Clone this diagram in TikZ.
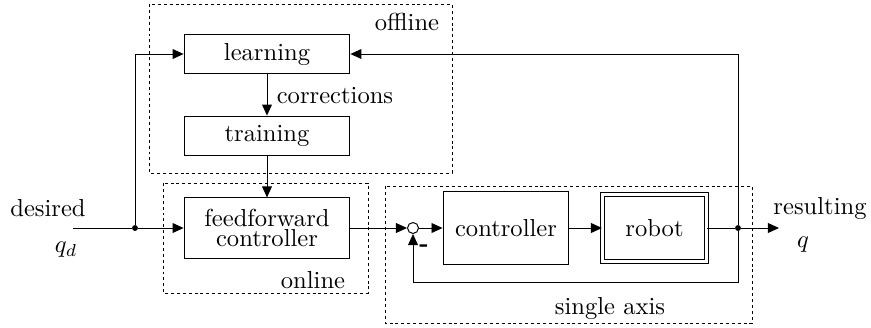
\documentclass[tikz,border=0pt]{standalone}
\usepackage{tikz}
\usetikzlibrary{arrows.meta, positioning, calc}

\begin{document}
\begin{tikzpicture}[x=0.0143cm, y=-0.0143cm,
  block/.style={draw, thin, minimum width=2.37cm, minimum height=0.57cm, inner sep=2pt, align=center},
  region/.style={draw, thin, dash pattern=on 1.2pt off 1.2pt},
  flow/.style={-{Triangle[length=4.5pt,width=4pt]}, thin},
  sumnode/.style={draw, thin, circle, minimum size=0.157cm, inner sep=0pt},
  joint/.style={circle, fill, minimum size=2.4pt, inner sep=0pt}]

\useasboundingbox (0,0) rectangle (871,327);

% regiones
\draw[region] (149,4) rectangle (452,173);
\draw[region] (163,183) rectangle (368,293);
\draw[region] (385,186) rectangle (752,323);

% rama offline
\node[block] (learn) at (267,54) {learning};
\node[block] (train) at (267,136) {training};

% rama online
\node[block, minimum height=0.86cm] (ff) at (267,228) {feedforward\\[-3.5pt]controller};

% single axis
\node[sumnode] (sum) at (413,228) {};
\node[block, minimum width=1.8cm, minimum height=1.03cm] (ctrl) at (506,228) {controller};
\node[draw, thin, double, double distance=1.6pt, minimum width=1.487cm, minimum height=0.958cm] (robot) at (654.5,228) {robot};

% puntos y extremos
\coordinate (start) at (73,228);
\node[joint] (in) at (135,228) {};
\node[joint] (split) at (738,228) {};
\coordinate (out) at (779,228);
\coordinate (fb) at (738,282);

% textos
\node (offl) at (407,22) {offline};
\node (corr) at (335,96) {corrections};
\node (onl) at (313,280) {online};
\node (single) at (610,308) {single axis};
\node (des) at (48,208) {desired};
\node (qd) at (66,250) {$q_d$};
\node (res) at (820,208) {resulting};
\node (qout) at (803,245) {$q$};
\node[font=\bfseries] (minus) at (424,248) {-};

% flechas
\draw[thin] (start) -- (in);
\draw[flow] (in) -- (ff);
\draw[flow] (in) |- (learn);
\draw[flow] (learn) -- (train);
\draw[flow] (train) -- (ff);
\draw[flow] (ff) -- (sum);
\draw[flow] (sum) -- (ctrl);
\draw[flow] (ctrl) -- (robot);
\draw[thin] (robot) -- (split);
\draw[flow] (split) -- (out);
\draw[flow] (split) |- (learn);
\draw[flow] (split) -- (fb) -| (sum);
\end{tikzpicture}
\end{document}
